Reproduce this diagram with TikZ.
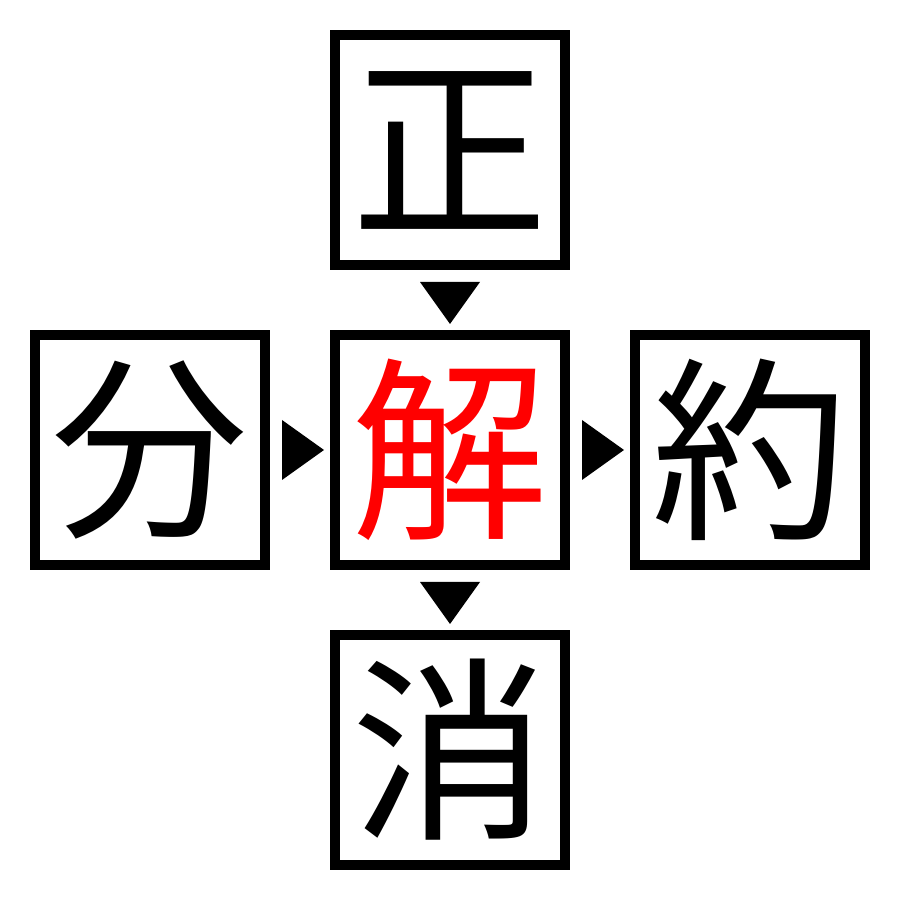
\documentclass[tikz,border=0pt]{standalone}
\usepackage{fontspec}
\newfontfamily\cjk{Noto Sans CJK JP}
\usetikzlibrary{calc}
\tikzset{
  kanji/.style={draw,line width=0.1cm,minimum size=2.3cm,inner sep=0pt,font=\cjk\fontsize{56}{56}\selectfont},
  mark down/.style={fill=black},
}
\begin{document}
\begin{tikzpicture}[x=1cm,y=1cm]

        \useasboundingbox (0,0) rectangle (9,9);

        % the five boxes
        \node[kanji] (sei) at (4.5,7.5) {正};
        \node[kanji] (bun) at (1.5,4.5) {分};
        \node[kanji,text=red] (kai) at (4.5,4.5) {解};
        \node[kanji] (yaku) at (7.5,4.5) {約};
        \node[kanji] (sho) at (4.5,1.5) {消};

        % triangles between the boxes
        \fill ($(sei.south)!0.5!(kai.north)+(0,-0.03)$) ++(-0.3,0.21) -- ++(0.6,0) -- ++(-0.3,-0.42) -- cycle;
        \fill ($(kai.south)!0.5!(sho.north)+(0,-0.03)$) ++(-0.3,0.21) -- ++(0.6,0) -- ++(-0.3,-0.42) -- cycle;
        \fill ($(bun.east)!0.5!(kai.west)+(0.03,0)$) ++(-0.21,0.3) -- ++(0,-0.6) -- ++(0.42,0.3) -- cycle;
        \fill ($(kai.east)!0.5!(yaku.west)+(0.03,0)$) ++(-0.21,0.3) -- ++(0,-0.6) -- ++(0.42,0.3) -- cycle;

\end{tikzpicture}
\end{document}
